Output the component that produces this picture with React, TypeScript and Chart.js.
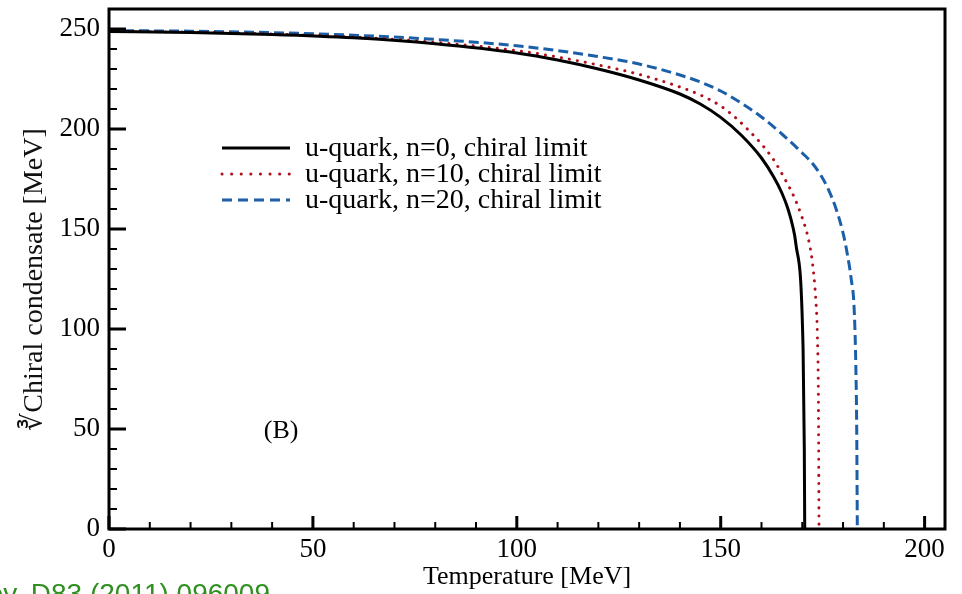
import React, { useEffect, useRef } from "react";
import { Chart, registerables } from "chart.js";

Chart.register(...registerables);

// ---- Data ----
const n0T = [0, 20, 40, 60, 80, 100, 110, 120, 130, 140, 145, 150, 155, 160, 163, 165, 166.5, 167.7, 168.4, 170.2, 170.5, 170.6];
const n0V = [248.7, 248.3, 247.3, 245.6, 242.6, 238, 234.5, 230, 224.5, 217.5, 212.5, 205.8, 197, 185.5, 176, 168, 160, 151, 143, 90, 40, 0];

const n10T = [0, 20, 40, 60, 80, 100, 110, 120, 130, 140, 145, 150, 154, 157, 160, 163, 166, 168, 170, 171.5, 172.5, 173.3, 173.7, 173.95, 174.1];
const n10V = [248.8, 248.4, 247.5, 246, 243.3, 239.2, 236, 232, 227.3, 221, 217, 211.5, 205, 199, 192.5, 184.5, 174, 166, 155.5, 145, 133, 115, 97, 65, 0];

const n20T = [0, 20, 40, 60, 80, 100, 110, 120, 130, 140, 145, 150, 155, 160, 165, 170, 173, 176, 178.3, 180, 181, 182, 182.7, 183.1, 183.35, 183.5];
const n20V = [249.2, 248.9, 248.2, 246.9, 244.8, 241.6, 239.2, 236.2, 232.5, 227, 223.5, 219, 213, 206, 197.5, 188, 181.5, 171.5, 160, 148, 138, 125, 111, 85, 50, 0];

const seriesLabels = ["u-quark, n=0, chiral limit", "u-quark, n=10, chiral limit", "u-quark, n=20, chiral limit"];
const xTickValues = [0, 50, 100, 150, 200];
const yTickValues = [0, 50, 100, 150, 200, 250];
const xTitle = "Temperature [MeV]";
const yTitle = "\u221BChiral condensate [MeV]\u00A0\u00A0\u00A0";
const panelLabel = "(B)";
const citation = "Phys. Rev. D83 (2011) 096009";

const SERIF = "'Liberation Serif', 'Times New Roman', serif";
const COLORS = ["#000000", "#b0101a", "#1b5fa8"];

const toPts = (t: number[], v: number[]) => t.map((x, i) => ({ x, y: v[i] }));

const decor = {
  id: "decor",
  afterDraw(chart: any) {
    const { ctx, chartArea: a, scales } = chart;
    const xs = scales.x;
    const ys = scales.y;
    ctx.save();
    // frame
    ctx.strokeStyle = "#000";
    ctx.lineWidth = 3;
    ctx.setLineDash([]);
    ctx.strokeRect(a.left, a.top, a.right - a.left, a.bottom - a.top);
    // inward ticks
    for (let v = 0; v <= 200; v += 10) {
      const px = xs.getPixelForValue(v);
      const major = v % 50 === 0;
      ctx.lineWidth = major ? 3 : 2;
      ctx.beginPath();
      ctx.moveTo(px, a.bottom);
      ctx.lineTo(px, a.bottom - (major ? 13 : 7));
      ctx.stroke();
    }
    for (let v = 0; v <= 250; v += 10) {
      const py = ys.getPixelForValue(v);
      const major = v % 50 === 0;
      ctx.lineWidth = major ? 3 : 2;
      ctx.beginPath();
      ctx.moveTo(a.left, py);
      ctx.lineTo(a.left + (major ? 17 : 8), py);
      ctx.stroke();
    }
    // legend
    const lx0 = 222, lx1 = 290, ly0 = 148, ldy = 26;
    const dashes = [[], [0.1, 9.5], [10, 6]];
    const caps = ["butt", "round", "butt"];
    ctx.font = `28px ${SERIF}`;
    ctx.textBaseline = "middle";
    ctx.textAlign = "left";
    for (let i = 0; i < 3; i++) {
      const y = ly0 + i * ldy;
      ctx.strokeStyle = COLORS[i];
      ctx.lineWidth = 3;
      ctx.lineCap = caps[i];
      ctx.setLineDash(dashes[i]);
      ctx.beginPath();
      ctx.moveTo(lx0, y);
      ctx.lineTo(lx1, y);
      ctx.stroke();
      ctx.setLineDash([]);
      ctx.fillStyle = "#000";
      ctx.fillText(seriesLabels[i], 305, y + 1);
    }
    // panel label
    ctx.font = `26px ${SERIF}`;
    ctx.textAlign = "center";
    ctx.fillText(panelLabel, xs.getPixelForValue(42.2), ys.getPixelForValue(49));
    // citation (clipped at the bottom-left edge)
    ctx.font = "28px 'Liberation Sans', Arial, sans-serif";
    ctx.fillStyle = "#2f8f1f";
    ctx.textAlign = "right";
    ctx.textBaseline = "alphabetic";
    ctx.fillText(citation, 270, 603);
    ctx.restore();
  },
};

export default function App() {
  const ref = useRef<HTMLCanvasElement | null>(null);
  useEffect(() => {
    if (!ref.current) return;
    const chart = new Chart(ref.current, {
      type: "line",
      data: {
        datasets: [
          {
            label: seriesLabels[0],
            data: toPts(n0T, n0V),
            borderColor: COLORS[0],
            borderWidth: 3,
            pointRadius: 0,
            cubicInterpolationMode: "monotone",
            fill: false,
          },
          {
            label: seriesLabels[1],
            data: toPts(n10T, n10V),
            borderColor: COLORS[1],
            borderWidth: 3,
            borderDash: [0.1, 8],
            borderCapStyle: "round",
            pointRadius: 0,
            cubicInterpolationMode: "monotone",
            fill: false,
          },
          {
            label: seriesLabels[2],
            data: toPts(n20T, n20V),
            borderColor: COLORS[2],
            borderWidth: 3,
            borderDash: [10, 5],
            pointRadius: 0,
            cubicInterpolationMode: "monotone",
            fill: false,
          },
        ],
      },
      options: {
        animation: false,
        responsive: false,
        devicePixelRatio: 1,
        layout: { padding: { top: 9, right: 17, left: 0, bottom: 0 } },
        plugins: { legend: { display: false }, tooltip: { enabled: false } },
        scales: {
          x: {
            type: "linear",
            min: 0,
            max: 205,
            afterBuildTicks: (s: any) => {
              s.ticks = xTickValues.map((v) => ({ value: v }));
            },
            afterFit: (s: any) => {
              s.height = 65;
              s.paddingLeft = 0;
              s.paddingRight = 0;
            },
            grid: { display: false, drawTicks: false },
            border: { display: false },
            ticks: { color: "#000", font: { family: SERIF, size: 27 }, padding: 5, maxRotation: 0, autoSkip: false },
            title: { display: true, text: xTitle, color: "#000", font: { family: SERIF, size: 26 }, padding: { top: 0, bottom: 1 } },
          },
          y: {
            type: "linear",
            min: 0,
            max: 260,
            afterBuildTicks: (s: any) => {
              s.ticks = yTickValues.map((v) => ({ value: v }));
            },
            afterFit: (s: any) => {
              s.width = 109;
              s.paddingTop = 0;
              s.paddingBottom = 0;
            },
            grid: { display: false, drawTicks: false },
            border: { display: false },
            ticks: { color: "#000", font: { family: SERIF, size: 27 }, padding: 9 },
            title: { display: true, text: yTitle, color: "#111", font: { family: SERIF, size: 28 }, padding: { top: 18, bottom: 0 } },
          },
        },
      },
      plugins: [decor],
    } as any);
    return () => chart.destroy();
  }, []);
  return (
    <div style={{ position: "fixed", left: 0, top: 0, width: 962, height: 594, background: "#fff" }}>
      <canvas ref={ref} width={962} height={594} style={{ display: "block" }} />
    </div>
  );
}
